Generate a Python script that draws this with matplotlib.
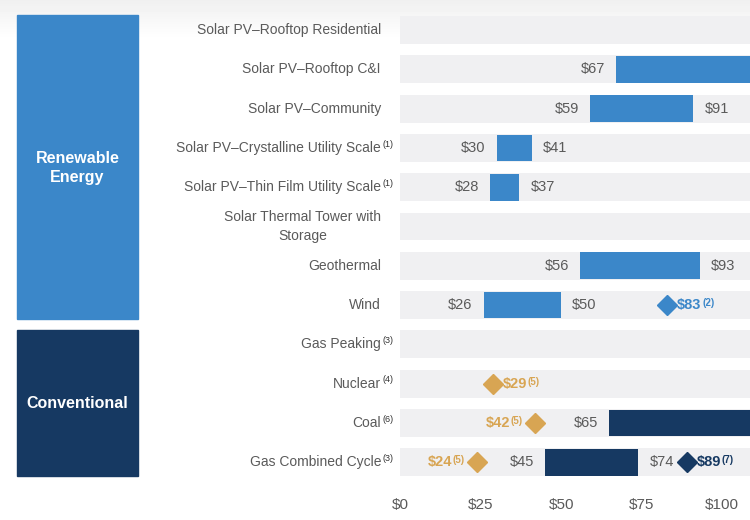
import numpy as np
import matplotlib.pyplot as plt
from matplotlib.patches import Rectangle

plt.rcParams['font.family'] = ['Liberation Sans', 'DejaVu Sans']

# LCOE ranges ($/MWh), top to bottom; some ranges run past the visible edge
categories = ['Solar PV\u2013Rooftop Residential', 'Solar PV\u2013Rooftop C&I',
              'Solar PV\u2013Community', 'Solar PV\u2013Crystalline Utility Scale',
              'Solar PV\u2013Thin Film Utility Scale', 'Solar Thermal Tower with\nStorage',
              'Geothermal', 'Wind', 'Gas Peaking', 'Nuclear', 'Coal', 'Gas Combined Cycle']
notes = ['', '', '', '(1)', '(1)', '', '', '', '(3)', '(4)', '(6)', '(3)']
low = [130, 67, 59, 30, 28, 112, 56, 26, 152, 112, 65, 45]
high = [230, 150, 91, 41, 37, 175, 93, 50, 206, 183, 143, 74]
group = ['r', 'r', 'r', 'r', 'r', 'r', 'r', 'r', 'c', 'c', 'c', 'c']

# extra diamond markers
marker_rows = [7, 9, 10, 11, 11]
marker_vals = [83, 29, 42, 24, 89]
marker_notes = ['(2)', '(5)', '(5)', '(5)', '(7)']
marker_kind = ['blue', 'gold', 'gold', 'gold', 'navy']
marker_side = ['right', 'right', 'left', 'left', 'right']

ticks = [0, 25, 50, 75, 100]

BLUE = '#3B87C9'
NAVY = '#163962'
GOLD = '#D8A553'
GREY = '#5A5A5A'
BAND = '#F0F0F2'
colors = {'blue': BLUE, 'gold': GOLD, 'navy': NAVY, 'r': BLUE, 'c': NAVY}

W, H = 750, 520
fig = plt.figure(figsize=(7.5, 5.2), dpi=100)
fig.patch.set_facecolor('white')

# faint grey shading along the top edge
bg = fig.add_axes([0, 0, 1, 1], zorder=-5)
grad = np.concatenate([np.linspace(0.94, 1.0, 40), np.ones(480)])[:, None]
bg.imshow(np.repeat(grad, 2, axis=1), cmap='gray', vmin=0, vmax=1, aspect='auto',
          extent=[0, 1, 0, 1])
bg.axis('off')

XMAX = 108.6
top_px, bot_px = 10, 485
pitch, first = 39.3, 30
ax = fig.add_axes([400 / W, (H - bot_px) / H, 350 / W, (bot_px - top_px) / H])
ax.set_xlim(0, XMAX)
ax.set_ylim((bot_px - first) / pitch, (top_px - first) / pitch)
for s in ax.spines.values():
    s.set_visible(False)
ax.set_yticks([])
ax.set_xticks(ticks)
ax.set_xticklabels(['$%d' % t for t in ticks], fontsize=11, color=GREY)
ax.tick_params(axis='x', length=0, pad=9)
ax.patch.set_alpha(0)

n = len(categories)
rows = list(range(n))
ax.barh(rows, [300] * n, left=0, height=0.71, color=BAND, zorder=1)
ax.barh(rows, [h - l for l, h in zip(low, high)], left=low, height=0.68,
        color=[colors[g] for g in group], zorder=2)

for i in rows:
    if low[i] < XMAX:
        ax.annotate('$%d' % low[i], (low[i], i), xytext=(-8, 0), textcoords='offset points',
                    ha='right', va='center', fontsize=10.5, color=GREY)
    if high[i] < XMAX:
        ax.annotate('$%d' % high[i], (high[i], i), xytext=(8, 0), textcoords='offset points',
                    ha='left', va='center', fontsize=10.5, color=GREY)

for r, v, fn, k, side in zip(marker_rows, marker_vals, marker_notes, marker_kind, marker_side):
    c = colors[k]
    ax.plot(v, r, marker='D', ms=10, color=c, zorder=3, clip_on=False)
    if side == 'right':
        t = ax.annotate('$%d' % v, (v, r), xytext=(7, 0), textcoords='offset points',
                        ha='left', va='center', fontsize=10.5, color=c, fontweight='bold')
    else:
        t = ax.annotate('$%d' % v, (v, r), xytext=(-18, 0), textcoords='offset points',
                        ha='right', va='center', fontsize=10.5, color=c, fontweight='bold')
    ax.annotate(fn, xy=(1, 1), xycoords=t, xytext=(0.3, 0), textcoords='offset points',
                ha='left', va='top', fontsize=7, color=c, fontweight='bold')

# category labels in figure pixels
for i, (name, fn) in enumerate(zip(categories, notes)):
    y = 1 - (first + pitch * i) / H
    t = fig.text(381 / W, y, name, ha='right', multialignment='center',
                 va='center', fontsize=10, color=GREY, linespacing=1.4)
    if fn:
        ax.annotate(fn, xy=(1, 1), xycoords=t, xytext=(1, 1), textcoords='offset points',
                    ha='left', va='top', fontsize=6.5, color='#333333', annotation_clip=False)

# group boxes on the left
fig.patches.append(Rectangle((17 / W, 1 - 319 / H), 121 / W, 304 / H,
                             transform=fig.transFigure, color=BLUE))
fig.patches.append(Rectangle((17 / W, 1 - 476 / H), 121 / W, 146 / H,
                             transform=fig.transFigure, color=NAVY))
fig.text(77.5 / W, 1 - 168 / H, 'Renewable\nEnergy', ha='center', va='center',
         fontsize=11.5, fontweight='bold', color='white', linespacing=1.3)
fig.text(77.5 / W, 1 - 404 / H, 'Conventional', ha='center', va='center',
         fontsize=11.5, fontweight='bold', color='white')

fig.savefig('out.png', dpi=100)
